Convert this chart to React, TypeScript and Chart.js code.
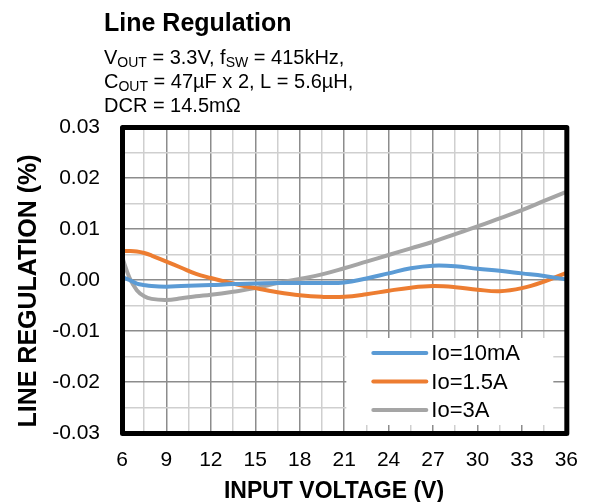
import React, { useEffect, useRef } from "react";
import { Chart, registerables } from "chart.js";

Chart.register(...registerables);

// ---- data ----
const VOLTAGES = [6, 6.5, 7, 7.5, 8, 9, 10, 11, 12, 13.5, 15, 16.5, 18, 19.5, 21, 22.5, 24, 25.5, 27, 28.5, 30, 31.5, 33, 34.5, 36];
const IO_10MA = [0.0006, 0.0, -0.0007, -0.001, -0.0012, -0.0013, -0.0012, -0.0011, -0.001, -0.0008, -0.0007, -0.0006, -0.0006, -0.0006, -0.0005, 0.0003, 0.0013, 0.0023, 0.0028, 0.0027, 0.0022, 0.0018, 0.0013, 0.0008, 0.0001];
const IO_1_5A = [0.0057, 0.0057, 0.0056, 0.0053, 0.0048, 0.0036, 0.0024, 0.0012, 0.0004, -0.0007, -0.0016, -0.0024, -0.003, -0.0033, -0.0033, -0.0028, -0.0021, -0.0015, -0.0012, -0.0014, -0.0019, -0.0022, -0.0016, -0.0003, 0.0014];
const IO_3A = [0.0046, 0.0005, -0.002, -0.0032, -0.0037, -0.0039, -0.0036, -0.0032, -0.0029, -0.0023, -0.0016, -0.0006, 0.0002, 0.0011, 0.0023, 0.0036, 0.0049, 0.0062, 0.0075, 0.009, 0.0105, 0.0121, 0.0137, 0.0155, 0.0173];
const SERIES_LABELS = ["Io=10mA", "Io=1.5A", "Io=3A"];
const SERIES_COLORS = ["#5B9BD5", "#ED7D31", "#A5A5A5"];

const TITLE = "Line Regulation";
const SUBTITLE_LINES = [
  [{ t: "V" }, { t: "OUT", s: true }, { t: " = 3.3V, f" }, { t: "SW", s: true }, { t: " = 415kHz," }],
  [{ t: "C" }, { t: "OUT", s: true }, { t: " = 47µF x 2, L = 5.6µH," }],
  [{ t: "DCR = 14.5mΩ" }],
];
const X_TITLE = "INPUT VOLTAGE (V)";
const Y_TITLE = "LINE REGULATION (%)";

const X_MIN = 6, X_MAX = 36, X_STEP = 1.5, X_MAJOR = 3;
const Y_MIN = -0.03, Y_MAX = 0.03, Y_STEP = 0.005;

const FONT = "'Liberation Sans', Arial, Helvetica, sans-serif";
const MAJOR_GRID = "#8c8c8c";
const MINOR_GRID = "#cfcfcf";

const decorPlugin = {
  id: "decor",
  afterDatasetsDraw(chart: any) {
    const { ctx, chartArea } = chart;
    ctx.save();
    // legend box
    const bx = chartArea.right - 220;
    const by = chartArea.bottom - 95;
    ctx.fillStyle = "#ffffff";
    ctx.fillRect(bx, by, 207, 87);
    chart.data.datasets.forEach((ds: any, i: number) => {
      const y = by + 15 + i * 28.5;
      ctx.strokeStyle = ds.borderColor;
      ctx.lineWidth = 4;
      ctx.lineCap = "round";
      ctx.beginPath();
      ctx.moveTo(bx + 27, y);
      ctx.lineTo(bx + 80, y);
      ctx.stroke();
      ctx.fillStyle = "#000";
      ctx.font = `22px ${FONT}`;
      ctx.textBaseline = "middle";
      ctx.textAlign = "left";
      ctx.fillText(ds.label, bx + 85, y + 1);
    });
    // plot border
    ctx.strokeStyle = "#000";
    ctx.lineWidth = 5;
    ctx.lineJoin = "round";
    ctx.strokeRect(chartArea.left + 0.5, chartArea.top + 0.5, chartArea.right - chartArea.left, chartArea.bottom - chartArea.top);
    ctx.restore();
  },
  afterDraw(chart: any) {
    const { ctx } = chart;
    ctx.save();
    ctx.fillStyle = "#000";
    ctx.textAlign = "left";
    ctx.textBaseline = "alphabetic";
    ctx.font = `bold 25px ${FONT}`;
    ctx.fillText(TITLE, 104, 31);
    const baselines = [64, 88, 112];
    SUBTITLE_LINES.forEach((line, li) => {
      let x = 104;
      line.forEach((seg: any) => {
        ctx.font = seg.s ? `14px ${FONT}` : `20px ${FONT}`;
        ctx.fillText(seg.t, x, baselines[li] + (seg.s ? 3 : 0));
        x += ctx.measureText(seg.t).width;
      });
    });
    // x axis title
    ctx.font = `bold 23px ${FONT}`;
    ctx.textAlign = "center";
    ctx.fillText(X_TITLE, 334, 498);
    // y axis title
    ctx.translate(36, 291);
    ctx.rotate(-Math.PI / 2);
    ctx.font = `bold 25px ${FONT}`;
    ctx.fillText(Y_TITLE, 0, 0);
    ctx.restore();
  },
};

export default function App() {
  const ref = useRef<HTMLCanvasElement | null>(null);
  useEffect(() => {
    if (!ref.current) return;
    const series = [IO_10MA, IO_1_5A, IO_3A];
    const chart = new Chart(ref.current, {
      type: "line",
      data: {
        datasets: series.map((vals, i) => ({
          label: SERIES_LABELS[i],
          data: VOLTAGES.map((v, j) => ({ x: v, y: vals[j] })),
          borderColor: SERIES_COLORS[i],
          backgroundColor: SERIES_COLORS[i],
          borderWidth: 4,
          pointRadius: 0,
          tension: 0.4,
          fill: false,
        })),
      },
      options: {
        animation: false,
        responsive: false,
        devicePixelRatio: 1,
        layout: { padding: { left: 0, right: 22, top: 127, bottom: 0 } },
        plugins: { legend: { display: false }, title: { display: false }, tooltip: { enabled: false } },
        scales: {
          x: {
            type: "linear",
            min: X_MIN,
            max: X_MAX,
            afterFit: (s: any) => { s.height = 69; },
            border: { display: false },
            grid: {
              drawTicks: false,
              lineWidth: 1.5,
              color: (c: any) => (c.tick && Math.abs(c.tick.value % X_MAJOR) < 1e-9 ? MAJOR_GRID : MINOR_GRID),
            },
            ticks: {
              stepSize: X_STEP,
              autoSkip: false,
              maxRotation: 0,
              padding: 15,
              color: "#000",
              font: { family: FONT, size: 21 },
              callback: (v: any) => (Math.abs(v % X_MAJOR) < 1e-9 ? String(v) : ""),
            },
          },
          y: {
            type: "linear",
            min: Y_MIN,
            max: Y_MAX,
            afterFit: (s: any) => { s.width = 122; },
            border: { display: false },
            grid: {
              drawTicks: false,
              lineWidth: 1.5,
              color: (c: any) => (c.tick && Math.round(c.tick.value * 1000) % 10 === 0 ? MAJOR_GRID : MINOR_GRID),
            },
            ticks: {
              stepSize: Y_STEP,
              autoSkip: false,
              padding: 22,
              color: "#000",
              font: { family: FONT, size: 21 },
              callback: (v: any) => {
                const n = Math.round(v * 1000);
                return n % 10 === 0 ? (n / 1000).toFixed(2) : "";
              },
            },
          },
        },
      },
      plugins: [decorPlugin],
    } as any);
    return () => chart.destroy();
  }, []);
  return (
    <div style={{ position: "absolute", left: 0, top: 0, width: 593, height: 502, background: "#fff" }}>
      <canvas ref={ref} width={593} height={502} style={{ display: "block" }} />
    </div>
  );
}
